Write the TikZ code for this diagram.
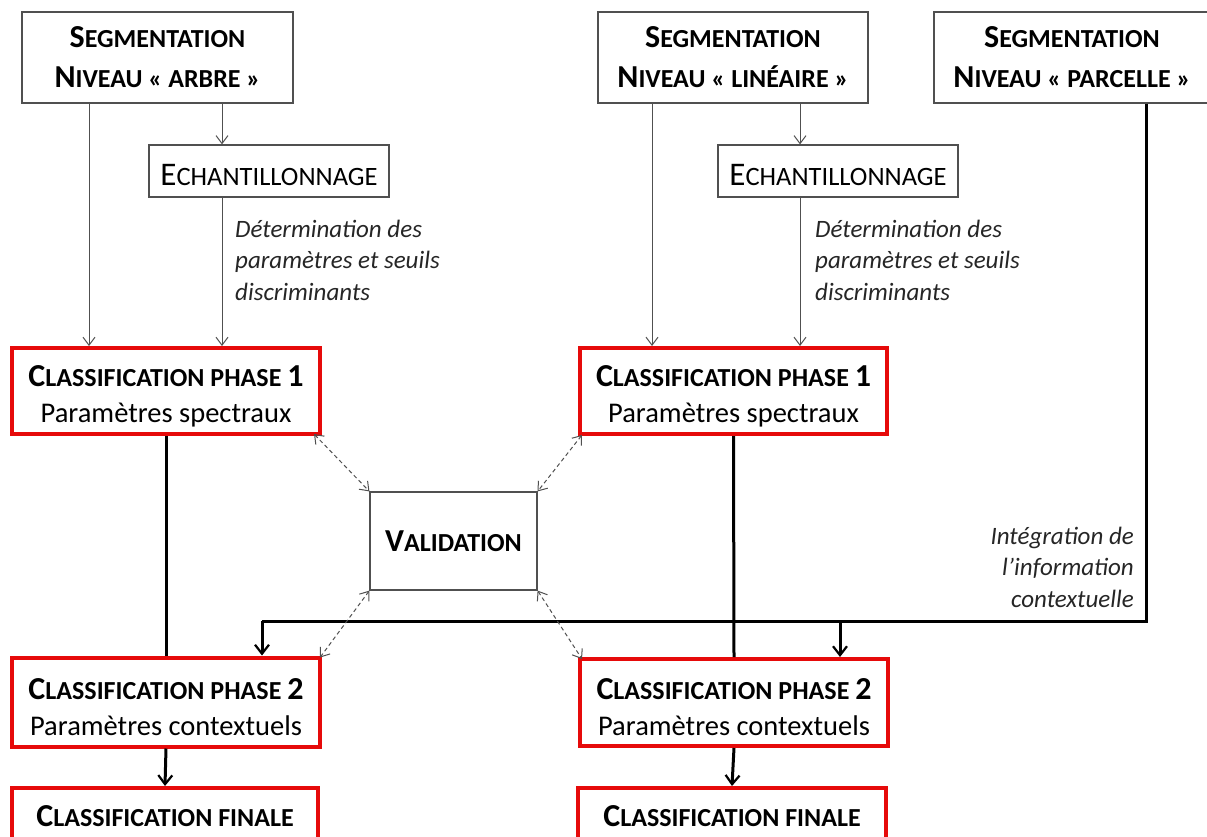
\documentclass[tikz,border=0pt]{standalone}
\usepackage{fontspec}
\setmainfont{Carlito}
\usetikzlibrary{arrows.meta,calc}
\definecolor{boxred}{RGB}{230,10,10}
\definecolor{boxgray}{RGB}{80,80,80}
\newcommand\SCb[2]{{\fontsize{32}{\baselineskip}\selectfont #1\fontsize{26}{\baselineskip}\selectfont #2}}
\newcommand\SCn[2]{{\fontsize{33}{\baselineskip}\selectfont #1\fontsize{26.5}{\baselineskip}\selectfont #2}}
\newcommand\topstrut{\rule{0pt}{31pt}}
\begin{document}
\begin{tikzpicture}[x=1pt,y=-1pt,
  graybox/.style={draw=boxgray,line width=1.2pt,fill=white,align=center,inner sep=0pt},
  redbox/.style={draw=boxred,line width=4pt,fill=white,align=center,inner sep=0pt,
     font=\fontsize{28.5}{36}\selectfont},
  segbox/.style={graybox,font=\bfseries\fontsize{28}{40}\selectfont},
  thinarr/.style={draw=boxgray,line width=1pt,-{Straight Barb[length=8pt,width=12pt,line width=1pt]}},
  thickline/.style={draw=black,line width=3pt},
  thickarr/.style={thickline,-{Straight Barb[length=9pt,width=14pt,line width=2.2pt]}},
  dasharr/.style={draw=boxgray,line width=1pt,dashed,dash pattern=on 4pt off 3pt,
     {Straight Barb[length=8pt,width=12pt,line width=1pt]}-{Straight Barb[length=8pt,width=12pt,line width=1pt]}},
  note/.style={font=\itshape\fontsize{25}{31.5}\selectfont,inner sep=0pt,text=black!85}
]
\useasboundingbox (0,0) rectangle (1207,836);
\fill[white] (0,0) rectangle (1207,836);
\clip (0,0) rectangle (1207,836);

% top segmentation boxes
\node[segbox,minimum width=271pt,minimum height=91pt] (seg1) at (157.5,57.5)
  {\SCb{S}{EGMENTATION}\\\SCb{N}{IVEAU « ARBRE »}};
\node[segbox,minimum width=270pt,minimum height=91pt] (seg2) at (733,57.5)
  {\SCb{S}{EGMENTATION}\\\SCb{N}{IVEAU « LINÉAIRE »}};
\node[segbox,minimum width=276pt,minimum height=91pt] (seg3) at (1072,57.5)
  {\SCb{S}{EGMENTATION}\\\SCb{N}{IVEAU « PARCELLE »}};

% echantillonnage
\node[graybox,minimum width=240pt,minimum height=52pt,text height=29pt,text depth=0pt] (ech1) at (269,171) {\SCn{E}{CHANTILLONNAGE}};
\node[graybox,minimum width=240pt,minimum height=52pt,text height=29pt,text depth=0pt] (ech2) at (838,171) {\SCn{E}{CHANTILLONNAGE}};

% classification boxes
\node[redbox,minimum width=308pt,minimum height=86pt] (c1) at (166,391)
  {\topstrut\bfseries\SCb{C}{LASSIFICATION PHASE }\fontsize{32}{36}\selectfont 1\\\mdseries\fontsize{28.5}{36}\selectfont Paramètres spectraux};
\node[redbox,minimum width=307pt,minimum height=86pt] (c1b) at (733.5,391)
  {\topstrut\bfseries\SCb{C}{LASSIFICATION PHASE }\fontsize{32}{36}\selectfont 1\\\mdseries\fontsize{28.5}{36}\selectfont Paramètres spectraux};
\node[redbox,minimum width=308pt,minimum height=89pt] (c2) at (166,702)
  {\topstrut\bfseries\SCb{C}{LASSIFICATION PHASE }\fontsize{32}{36}\selectfont 2\\\mdseries\fontsize{28.5}{36}\selectfont Paramètres contextuels};
\node[redbox,minimum width=308pt,minimum height=87pt] (c2b) at (734,702.5)
  {\topstrut\bfseries\SCb{C}{LASSIFICATION PHASE }\fontsize{32}{36}\selectfont 2\\\mdseries\fontsize{28.5}{36}\selectfont Paramètres contextuels};
\node[redbox,minimum width=306pt,minimum height=56pt] (f1) at (165,816)
  {\bfseries\SCb{C}{LASSIFICATION FINALE}};
\node[redbox,minimum width=308pt,minimum height=56pt] (f2) at (732,816)
  {\bfseries\SCb{C}{LASSIFICATION FINALE}};

% validation
\node[graybox,minimum width=167pt,minimum height=98pt,font=\bfseries] (val) at (453.5,541)
  {\SCb{V}{ALIDATION}};

% notes
\node[note,anchor=west,align=left] (n1) at (235,260)
  {Détermination des\\paramètres et seuils\\discriminants};
\node[note,anchor=west,align=left] (n2) at (815,260)
  {Détermination des\\paramètres et seuils\\discriminants};
\node[note,anchor=east,align=right] (n3) at (1134,567)
  {Intégration de\\l’information\\contextuelle};

% helper coordinates
\coordinate (a1) at (89,0);
\coordinate (a2) at (222,0);
\coordinate (b1) at (652,0);
\coordinate (b2) at (800,0);
\coordinate (bus) at (1146,621);
\coordinate (j1) at (262,621);
\coordinate (j2) at (840,621);

% thin arrows
\draw[thinarr] (seg1.south -| a1) -- (c1.north -| a1);
\draw[thinarr] (seg1.south -| a2) -- (ech1.north -| a2);
\draw[thinarr] (ech1.south -| a2) -- (c1.north -| a2);
\draw[thinarr] (seg2.south -| b1) -- (c1b.north -| b1);
\draw[thinarr] (seg2.south -| b2) -- (ech2.north -| b2);
\draw[thinarr] (ech2.south -| b2) -- (c1b.north -| b2);

% thick connectors
\draw[thickline] (c1.south) -- (c2.north);
\draw[thickline] (c1b.south) -- (c2b.north);
\draw[thickarr] (c2.south) -- (f1.north);
\draw[thickarr] (c2b.south) -- (f2.north);
\draw[thickline,line join=miter] (seg3.south -| bus) -- (bus) -- (j1);
\draw[thickarr] (j1) -- (c2.north -| j1);
\draw[thickarr] (j2) -- (c2b.north -| j2);

% dashed validation links
\draw[dasharr] ([xshift=-8pt,yshift=2pt]c1.south east) -- (val.north west);
\draw[dasharr] ([xshift=4pt,yshift=1pt]c1b.south west) -- (val.north east);
\draw[dasharr] (val.south west) -- ([xshift=-2pt,yshift=-2pt]c2.north east);
\draw[dasharr] (val.south east) -- ([xshift=4pt,yshift=-2pt]c2b.north west);
\end{tikzpicture}
\end{document}
